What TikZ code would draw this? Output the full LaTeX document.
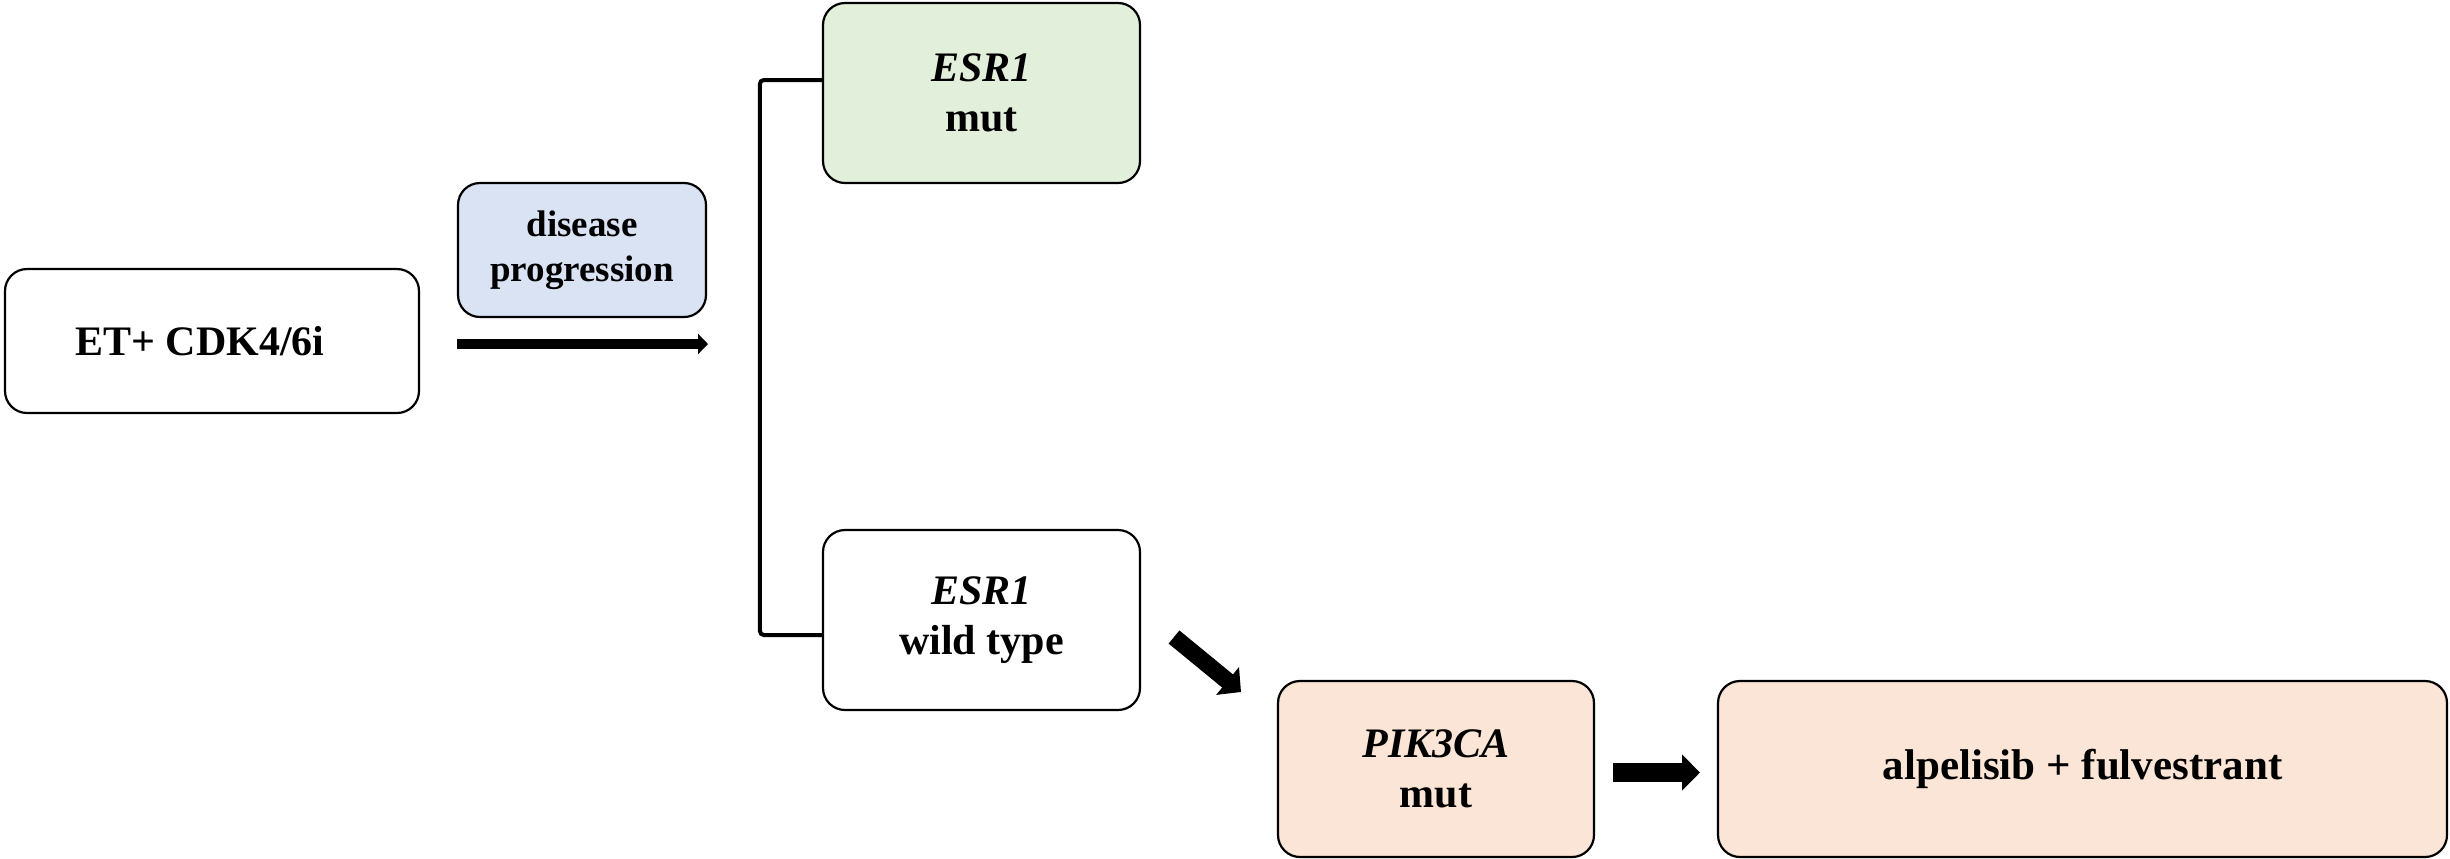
\documentclass[tikz,border=0pt]{standalone}
\usepackage{fontspec}
\setmainfont{Liberation Serif}
\usetikzlibrary{arrows.meta}

\definecolor{mutgreen}{HTML}{E2EFDA}
\definecolor{progblue}{HTML}{DAE3F3}
\definecolor{peach}{HTML}{FBE5D6}

\tikzset{
  box/.style={draw=black, line width=1.1pt, rounded corners=11pt,
    align=center, inner sep=0pt,
    font=\fontsize{21}{25}\selectfont\bfseries},
  bracket/.style={draw=black, line width=2pt, rounded corners=2pt},
  blockarrow/.style n args={3}{draw=black, line width=#1,
    -{Triangle[width=#2, length=#3]}},
}

\begin{document}
\begin{tikzpicture}[x=0.5pt, y=-0.5pt]
  \useasboundingbox (0,0) rectangle (2450,858);

  % treatment boxes
  \node[box, minimum width=207pt, minimum height=72pt] (et) at (212,341)
    {ET+ CDK4/6i\hspace*{12pt}};
  \node[box, fill=progblue, minimum width=124pt, minimum height=67pt,
        font=\fontsize{18.5}{22.5}\selectfont\bfseries] (prog) at (582,250)
    {disease\\progression};

  % ESR1 status
  \node[box, fill=mutgreen, minimum width=158.5pt, minimum height=90pt] (mut)
    at (981.5,93) {\textit{ESR1}\\mut};
  \node[box, minimum width=158.5pt, minimum height=90pt] (wt)
    at (981.5,620) {\textit{ESR1}\\wild type};

  % PIK3CA branch
  \node[box, fill=peach, minimum width=158pt, minimum height=88pt] (pik)
    at (1436,769) {\textit{PIK3CA}\\mut};
  \node[box, fill=peach, minimum width=364.5pt, minimum height=88pt,
        font=\fontsize{21.5}{25}\selectfont\bfseries] (alp)
    at (2082.5,769) {alpelisib + fulvestrant};

  % bracket joining the two ESR1 outcomes
  \draw[bracket] ([yshift=6.5pt]mut.west) -- ++(-62,0)
    |- ([yshift=-7.5pt]wt.west);

  % arrows
  \coordinate (a1s) at (457,344);
  \coordinate (a1e) at (708,344);
  \draw[blockarrow={5pt}{10pt}{5pt}] (a1s) -- (a1e);

  \coordinate (a2s) at (1174,637);
  \coordinate (a2e) at (1241,692);
  \draw[blockarrow={8.5pt}{17.5pt}{8.7pt}] (a2s) -- (a2e);

  \coordinate (a3s) at (1613,772.5);
  \coordinate (a3e) at (1700,772.5);
  \draw[blockarrow={9.5pt}{17.5pt}{9pt}] (a3s) -- (a3e);
\end{tikzpicture}
\end{document}
